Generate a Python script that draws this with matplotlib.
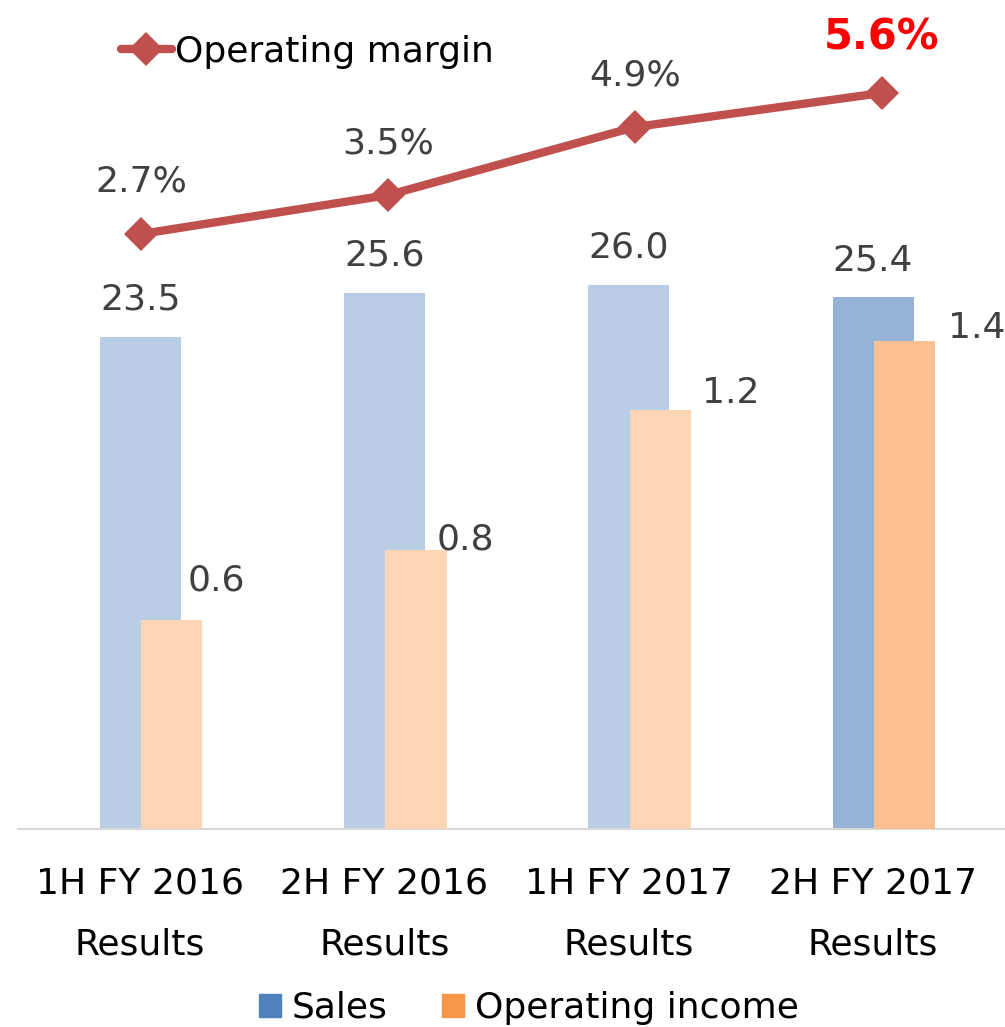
import numpy as np
from matplotlib import pyplot as plt
from matplotlib.patches import Patch
from matplotlib.lines import Line2D


# Data
periods = ['1H FY 2016\nResults', '2H FY 2016\nResults', '1H FY 2017\nResults', '2H FY 2017\nResults']
sales = [23.5, 25.6, 26.0, 25.4]
operating_income = [0.6, 0.8, 1.2, 1.4]
operating_margin = [2.7, 3.5, 4.9, 5.6]

sales_labels = ['23.5', '25.6', '26.0', '25.4']
income_labels = ['0.6', '0.8', '1.2', '1.4']
margin_labels = ['2.7%', '3.5%', '4.9%', '5.6%']

# Colours (last period is highlighted)
sales_colors = ['#B9CDE5', '#B9CDE5', '#B9CDE5', '#95B3D7']
income_colors = ['#FCD5B5', '#FCD5B5', '#FCD5B5', '#FAC090']
line_color = '#C0504D'
label_color = '#404040'

# manual label offsets for operating income (pixels from bar top centre)
income_offsets = [(45, 29), (49, 0), (70, 7), (72, 3)]


def main():

	plt.rcParams['font.family'] = ['DejaVu Sans']
	fig = plt.figure(figsize=(10.05, 10.27), dpi=100)

	rect = [18 / 1005, 0.1931, 987 / 1005, 0.8069]
	ax = fig.add_axes(rect)
	ax_inc = ax.twinx()
	ax_line = fig.add_axes(rect, frameon=False)

	x = np.arange(len(periods))

	# Sales bars on primary axis
	ax.bar(x, sales, width=0.332, color=sales_colors, zorder=2)
	ax.set_xlim(-0.5, 3.54)
	ax.set_ylim(0, 39.6)
	for xi, y, lab in zip(x, sales, sales_labels):
		ax.annotate(lab, (xi, y), textcoords='offset pixels', xytext=(0, 27),
					ha='center', va='baseline', fontsize=26, color=label_color)

	# Operating income bars on secondary axis
	ax_inc.bar(x + 0.129, operating_income, width=0.25, color=income_colors, zorder=3)
	ax_inc.set_xlim(-0.5, 3.54)
	ax_inc.set_ylim(0, 2.377)
	for xi, y, lab, off in zip(x, operating_income, income_labels, income_offsets):
		ax_inc.annotate(lab, (xi + 0.129, y), textcoords='offset pixels', xytext=off,
						ha='center', va='baseline', fontsize=26, color=label_color)

	# Operating margin line
	ax_line.plot(x, operating_margin, color=line_color, linewidth=6,
				 marker='D', markersize=17, markeredgewidth=0, solid_capstyle='round')
	ax_line.set_xlim(-0.5, 3.5)
	ax_line.set_ylim(-9.537, 7.514)
	ax_line.set_xticks([])
	ax_line.set_yticks([])
	for i, (xi, y, lab) in enumerate(zip(x, operating_margin, margin_labels)):
		if i == len(x) - 1:
			ax_line.annotate(lab, (xi, y), textcoords='offset pixels', xytext=(0, 44),
							 ha='center', va='baseline', fontsize=30, fontweight='bold', color='#FF0000')
		else:
			ax_line.annotate(lab, (xi, y), textcoords='offset pixels', xytext=(0, 42),
							 ha='center', va='baseline', fontsize=26, color=label_color)

	# Axes styling
	for a in (ax, ax_inc):
		for side in ['top', 'left', 'right']:
			a.spines[side].set_visible(False)
		a.set_yticks([])
	ax_inc.spines['bottom'].set_visible(False)
	ax.spines['bottom'].set_color('#D9D9D9')
	ax.spines['bottom'].set_linewidth(1.5)
	ax.set_xticks(x)
	ax.set_xticklabels(periods, fontsize=26, linespacing=2.0)
	ax.tick_params(axis='x', length=0, pad=27)

	# Legends
	line_handle = Line2D([], [], color=line_color, linewidth=6, marker='D',
						 markersize=17, markeredgewidth=0, solid_capstyle='round')
	fig.legend([line_handle], ['Operating margin'], loc='center left',
			   bbox_to_anchor=(121 / 1005, 1 - 52 / 1027), frameon=False, fontsize=26,
			   handlelength=1.4, handletextpad=0.1, borderpad=0, borderaxespad=0)

	bar_handles = [Patch(color='#4F81BD'), Patch(color='#F79646')]
	fig.legend(bar_handles, ['Sales', 'Operating income'], loc='center',
			   bbox_to_anchor=(529 / 1005, 1 - 1008 / 1027), ncol=2, frameon=False, fontsize=26,
			   handlelength=0.61, handleheight=0.61, handletextpad=0.3, columnspacing=1.5,
			   borderpad=0, borderaxespad=0)

	fig.savefig('out.png', dpi=100)


if __name__ == '__main__':
	main()
